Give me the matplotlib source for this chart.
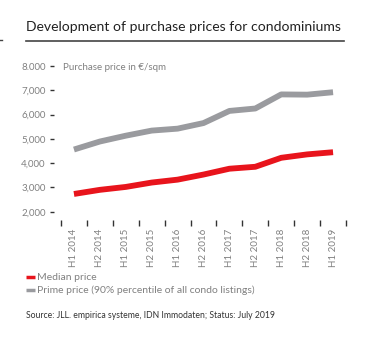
import numpy as np
import matplotlib.pyplot as plt

plt.rcParams['font.family'] = ['Lato', 'DejaVu Sans']

# Halbjahre und Preise in €/qm
periods = ["H1 2014", "H2 2014", "H1 2015", "H2 2015", "H1 2016", "H2 2016",
           "H1 2017", "H2 2017", "H1 2018", "H2 2018", "H1 2019"]
median_price = [2730, 2900, 3020, 3200, 3320, 3530, 3770, 3850, 4220, 4360, 4450]
prime_price = [4560, 4890, 5130, 5340, 5420, 5650, 6150, 6250, 6830, 6820, 6920]
y_ticks = [2000, 3000, 4000, 5000, 6000, 7000, 8000]
y_tick_labels = ["2,000", "3,000", "4,000", "5,000", "6,000", "7,000", "8.000"]

red = "#e8141c"
grey = "#9a9b9f"
txt = "#808080"

fig = plt.figure(figsize=(3.84, 3.43), dpi=100)
ax = fig.add_axes([61/384, 1 - 211.7/343, 285/384, 145.7/343])

x = np.arange(len(periods))
ax.plot(x, prime_price, color=grey, lw=4.2, solid_capstyle='butt', solid_joinstyle='round')
ax.plot(x, median_price, color=red, lw=4.2, solid_capstyle='butt', solid_joinstyle='round')

ax.set_xlim(-0.5, len(periods) - 0.5)
ax.set_ylim(2000, 8000)

for s in ax.spines.values():
    s.set_visible(False)

# y-Achse: kurze Striche rechts neben den Beschriftungen
ax.spines['left'].set_position(('outward', 5))
ax.set_yticks(y_ticks)
ax.set_yticklabels(y_tick_labels)
ax.tick_params(axis='y', length=3, width=1, color="#333333", pad=3,
               labelsize=7, labelcolor=txt)

# x-Achse: Striche an den Grenzen, Beschriftungen in der Mitte
ax.spines['bottom'].set_position(('outward', 6))
ax.set_xticks(np.arange(-0.5, len(periods)))
ax.set_xticklabels([])
ax.set_xticks(x, minor=True)
ax.set_xticklabels(periods, minor=True, rotation=90)
ax.tick_params(axis='x', which='major', length=4, width=1, color="#333333")
ax.tick_params(axis='x', which='minor', length=0, pad=6, labelsize=7, labelcolor=txt)

ax.text(63/384, 1 - 67/343, "Purchase price in €/sqm", transform=fig.transFigure,
        fontsize=7, color=txt, va='center', ha='left')

# Titel mit Unterstrich
fig.text(26/384, 1 - 27/343, "Development of purchase prices for condominiums",
         fontsize=10.1, color="#222222", va='center', ha='left')
fig.add_artist(plt.Line2D([26/384, 344/384], [1 - 41/343, 1 - 41/343],
                          transform=fig.transFigure, color="#444444", lw=1.2))
fig.add_artist(plt.Line2D([0, 2/384], [1 - 40/343, 1 - 40/343],
                          transform=fig.transFigure, color="#444444", lw=1))

# Legende
for yy, col, lab in [(277, red, "Median price"),
                     (290, grey, "Prime price (90% percentile of all condo listings)")]:
    fig.add_artist(plt.Line2D([26/384, 35/384], [1 - yy/343, 1 - yy/343],
                              transform=fig.transFigure, color=col, lw=2.5,
                              solid_capstyle='butt'))
    fig.text(37/384, 1 - yy/343, lab, fontsize=7.5, color=txt, va='center', ha='left')

fig.text(26/384, 1 - 316/343, "Source: JLL. empirica systeme, IDN Immodaten; Status: July 2019",
         fontsize=6.2, color="#333333", va='center', ha='left')

fig.savefig("out.png", dpi=100, facecolor='white')
